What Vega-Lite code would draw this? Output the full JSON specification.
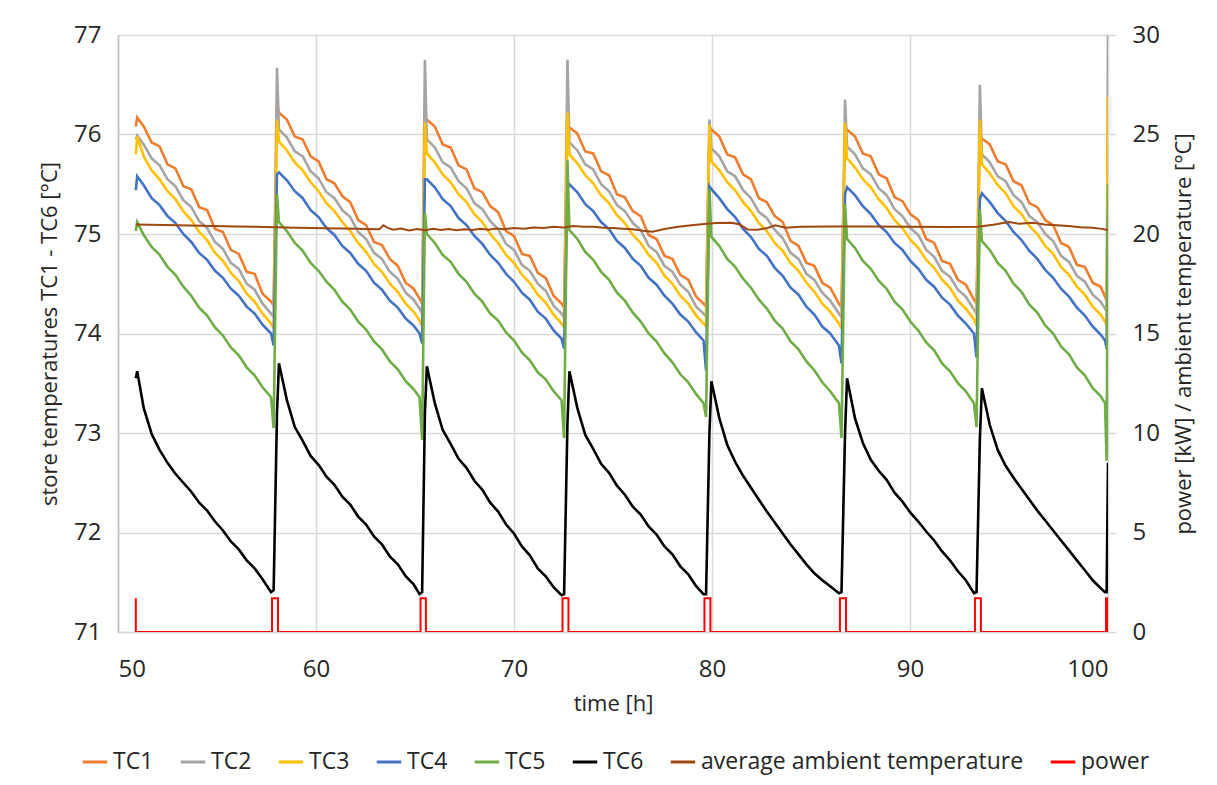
{
"$schema": "https://vega.github.io/schema/vega-lite/v6.json",
"width": 990, "height": 597,
"autosize": {"type": "none"},
"padding": {"left": 118, "top": 35, "right": 109, "bottom": 153},
"background": "white",
"config": {
 "font": "Open Sans",
 "view": {"stroke": null},
 "axis": {"labelFont": "Open Sans", "titleFont": "Open Sans", "labelColor": "#262626", "titleColor": "#262626", "titleFontWeight": "normal", "gridColor": "#d9d9d9", "gridWidth": 1.5, "ticks": false, "domain": false, "labelFontSize": 24, "titleFontSize": 22}
},
"datasets": {
 "tc": [
{"t":50.9,"TC1":76.08,"TC2":75.95,"TC3":75.8,"TC4":75.44,"TC5":75.03,"TC6":73.55},
{"t":50.97,"TC1":76.17,"TC2":75.99,"TC3":75.98,"TC4":75.58,"TC5":75.12,"TC6":73.62},
{"t":51.3,"TC1":76.08,"TC2":75.9,"TC3":75.78,"TC4":75.49,"TC5":74.99,"TC6":73.25},
{"t":51.7,"TC1":75.92,"TC2":75.76,"TC3":75.64,"TC4":75.36,"TC5":74.87,"TC6":72.99},
{"t":52.1,"TC1":75.88,"TC2":75.69,"TC3":75.55,"TC4":75.29,"TC5":74.79,"TC6":72.83},
{"t":52.5,"TC1":75.7,"TC2":75.55,"TC3":75.43,"TC4":75.18,"TC5":74.67,"TC6":72.7},
{"t":52.9,"TC1":75.66,"TC2":75.48,"TC3":75.35,"TC4":75.11,"TC5":74.59,"TC6":72.59},
{"t":53.3,"TC1":75.48,"TC2":75.34,"TC3":75.23,"TC4":75.0,"TC5":74.47,"TC6":72.5},
{"t":53.7,"TC1":75.45,"TC2":75.27,"TC3":75.14,"TC4":74.92,"TC5":74.38,"TC6":72.41},
{"t":54.1,"TC1":75.27,"TC2":75.13,"TC3":75.02,"TC4":74.81,"TC5":74.26,"TC6":72.3},
{"t":54.5,"TC1":75.24,"TC2":75.06,"TC3":74.94,"TC4":74.74,"TC5":74.18,"TC6":72.22},
{"t":54.9,"TC1":75.05,"TC2":74.92,"TC3":74.81,"TC4":74.63,"TC5":74.06,"TC6":72.11},
{"t":55.3,"TC1":75.02,"TC2":74.85,"TC3":74.73,"TC4":74.56,"TC5":73.98,"TC6":72.02},
{"t":55.7,"TC1":74.84,"TC2":74.71,"TC3":74.61,"TC4":74.45,"TC5":73.86,"TC6":71.91},
{"t":56.1,"TC1":74.8,"TC2":74.65,"TC3":74.53,"TC4":74.38,"TC5":73.78,"TC6":71.83},
{"t":56.5,"TC1":74.62,"TC2":74.5,"TC3":74.4,"TC4":74.27,"TC5":73.66,"TC6":71.72},
{"t":56.9,"TC1":74.6,"TC2":74.44,"TC3":74.32,"TC4":74.2,"TC5":73.58,"TC6":71.64},
{"t":57.3,"TC1":74.4,"TC2":74.3,"TC3":74.2,"TC4":74.09,"TC5":73.46,"TC6":71.53},
{"t":57.73,"TC1":74.32,"TC2":74.2,"TC3":74.1,"TC4":74.0,"TC5":73.36,"TC6":71.4},
{"t":57.86,"TC1":74.28,"TC2":74.17,"TC3":74.05,"TC4":73.88,"TC5":73.05,"TC6":71.42},
{"t":58.03,"TC1":76.3,"TC2":76.67,"TC3":76.15,"TC4":75.6,"TC5":75.4,"TC6":73.2},
{"t":58.13,"TC1":76.22,"TC2":76.05,"TC3":75.93,"TC4":75.62,"TC5":75.12,"TC6":73.7},
{"t":58.53,"TC1":76.15,"TC2":75.97,"TC3":75.84,"TC4":75.54,"TC5":75.03,"TC6":73.33},
{"t":58.93,"TC1":75.98,"TC2":75.83,"TC3":75.72,"TC4":75.43,"TC5":74.91,"TC6":73.06},
{"t":59.33,"TC1":75.95,"TC2":75.78,"TC3":75.64,"TC4":75.36,"TC5":74.83,"TC6":72.92},
{"t":59.73,"TC1":75.78,"TC2":75.63,"TC3":75.52,"TC4":75.24,"TC5":74.71,"TC6":72.77},
{"t":60.13,"TC1":75.73,"TC2":75.56,"TC3":75.43,"TC4":75.17,"TC5":74.63,"TC6":72.68},
{"t":60.53,"TC1":75.55,"TC2":75.42,"TC3":75.31,"TC4":75.06,"TC5":74.52,"TC6":72.56},
{"t":60.93,"TC1":75.51,"TC2":75.36,"TC3":75.23,"TC4":74.99,"TC5":74.44,"TC6":72.48},
{"t":61.33,"TC1":75.38,"TC2":75.24,"TC3":75.12,"TC4":74.88,"TC5":74.32,"TC6":72.36},
{"t":61.73,"TC1":75.32,"TC2":75.17,"TC3":75.03,"TC4":74.81,"TC5":74.24,"TC6":72.28},
{"t":62.13,"TC1":75.14,"TC2":75.02,"TC3":74.91,"TC4":74.7,"TC5":74.12,"TC6":72.16},
{"t":62.53,"TC1":75.09,"TC2":74.95,"TC3":74.82,"TC4":74.63,"TC5":74.04,"TC6":72.08},
{"t":62.93,"TC1":74.92,"TC2":74.81,"TC3":74.7,"TC4":74.51,"TC5":73.92,"TC6":71.96},
{"t":63.33,"TC1":74.89,"TC2":74.75,"TC3":74.62,"TC4":74.44,"TC5":73.84,"TC6":71.88},
{"t":63.73,"TC1":74.75,"TC2":74.62,"TC3":74.5,"TC4":74.33,"TC5":73.72,"TC6":71.76},
{"t":64.13,"TC1":74.68,"TC2":74.55,"TC3":74.42,"TC4":74.26,"TC5":73.64,"TC6":71.68},
{"t":64.53,"TC1":74.51,"TC2":74.41,"TC3":74.3,"TC4":74.15,"TC5":73.52,"TC6":71.56},
{"t":64.93,"TC1":74.45,"TC2":74.34,"TC3":74.22,"TC4":74.08,"TC5":73.44,"TC6":71.48},
{"t":65.23,"TC1":74.35,"TC2":74.25,"TC3":74.13,"TC4":74.0,"TC5":73.36,"TC6":71.38},
{"t":65.36,"TC1":74.3,"TC2":74.2,"TC3":74.07,"TC4":73.9,"TC5":72.93,"TC6":71.4},
{"t":65.5,"TC1":76.15,"TC2":76.75,"TC3":76.12,"TC4":75.55,"TC5":75.21,"TC6":73.2},
{"t":65.6,"TC1":76.15,"TC2":75.95,"TC3":75.81,"TC4":75.55,"TC5":75.0,"TC6":73.67},
{"t":66.0,"TC1":76.08,"TC2":75.87,"TC3":75.72,"TC4":75.47,"TC5":74.91,"TC6":73.3},
{"t":66.4,"TC1":75.9,"TC2":75.72,"TC3":75.6,"TC4":75.35,"TC5":74.79,"TC6":73.03},
{"t":66.8,"TC1":75.87,"TC2":75.67,"TC3":75.52,"TC4":75.28,"TC5":74.72,"TC6":72.89},
{"t":67.2,"TC1":75.69,"TC2":75.53,"TC3":75.4,"TC4":75.16,"TC5":74.6,"TC6":72.74},
{"t":67.6,"TC1":75.65,"TC2":75.46,"TC3":75.32,"TC4":75.09,"TC5":74.52,"TC6":72.65},
{"t":68.0,"TC1":75.46,"TC2":75.31,"TC3":75.2,"TC4":74.98,"TC5":74.4,"TC6":72.52},
{"t":68.4,"TC1":75.42,"TC2":75.25,"TC3":75.12,"TC4":74.9,"TC5":74.32,"TC6":72.43},
{"t":68.8,"TC1":75.28,"TC2":75.13,"TC3":75.0,"TC4":74.79,"TC5":74.2,"TC6":72.3},
{"t":69.2,"TC1":75.22,"TC2":75.05,"TC3":74.91,"TC4":74.71,"TC5":74.13,"TC6":72.21},
{"t":69.6,"TC1":75.03,"TC2":74.9,"TC3":74.79,"TC4":74.6,"TC5":74.01,"TC6":72.08},
{"t":70.0,"TC1":74.98,"TC2":74.84,"TC3":74.71,"TC4":74.52,"TC5":73.93,"TC6":71.99},
{"t":70.4,"TC1":74.8,"TC2":74.69,"TC3":74.59,"TC4":74.41,"TC5":73.81,"TC6":71.86},
{"t":70.8,"TC1":74.78,"TC2":74.63,"TC3":74.51,"TC4":74.34,"TC5":73.73,"TC6":71.77},
{"t":71.2,"TC1":74.61,"TC2":74.5,"TC3":74.39,"TC4":74.22,"TC5":73.61,"TC6":71.64},
{"t":71.6,"TC1":74.56,"TC2":74.43,"TC3":74.31,"TC4":74.15,"TC5":73.54,"TC6":71.56},
{"t":72.0,"TC1":74.38,"TC2":74.28,"TC3":74.19,"TC4":74.03,"TC5":73.42,"TC6":71.45},
{"t":72.4,"TC1":74.3,"TC2":74.2,"TC3":74.1,"TC4":73.95,"TC5":73.33,"TC6":71.37},
{"t":72.53,"TC1":74.26,"TC2":74.16,"TC3":74.06,"TC4":73.85,"TC5":72.95,"TC6":71.38},
{"t":72.7,"TC1":76.05,"TC2":76.75,"TC3":76.22,"TC4":75.45,"TC5":75.74,"TC6":73.1},
{"t":72.8,"TC1":76.07,"TC2":75.92,"TC3":75.8,"TC4":75.5,"TC5":75.04,"TC6":73.62},
{"t":73.2,"TC1":76.01,"TC2":75.84,"TC3":75.71,"TC4":75.42,"TC5":74.95,"TC6":73.25},
{"t":73.6,"TC1":75.83,"TC2":75.7,"TC3":75.59,"TC4":75.3,"TC5":74.82,"TC6":72.98},
{"t":74.0,"TC1":75.81,"TC2":75.65,"TC3":75.51,"TC4":75.23,"TC5":74.74,"TC6":72.84},
{"t":74.4,"TC1":75.63,"TC2":75.5,"TC3":75.39,"TC4":75.12,"TC5":74.62,"TC6":72.69},
{"t":74.8,"TC1":75.59,"TC2":75.43,"TC3":75.31,"TC4":75.05,"TC5":74.54,"TC6":72.6},
{"t":75.2,"TC1":75.4,"TC2":75.29,"TC3":75.19,"TC4":74.93,"TC5":74.41,"TC6":72.47},
{"t":75.6,"TC1":75.37,"TC2":75.23,"TC3":75.11,"TC4":74.86,"TC5":74.33,"TC6":72.38},
{"t":76.0,"TC1":75.23,"TC2":75.11,"TC3":74.99,"TC4":74.75,"TC5":74.21,"TC6":72.26},
{"t":76.4,"TC1":75.18,"TC2":75.04,"TC3":74.91,"TC4":74.68,"TC5":74.12,"TC6":72.18},
{"t":76.8,"TC1":74.99,"TC2":74.88,"TC3":74.79,"TC4":74.56,"TC5":74.0,"TC6":72.06},
{"t":77.2,"TC1":74.95,"TC2":74.82,"TC3":74.71,"TC4":74.49,"TC5":73.92,"TC6":71.98},
{"t":77.6,"TC1":74.78,"TC2":74.68,"TC3":74.58,"TC4":74.38,"TC5":73.8,"TC6":71.86},
{"t":78.0,"TC1":74.75,"TC2":74.62,"TC3":74.5,"TC4":74.3,"TC5":73.71,"TC6":71.78},
{"t":78.4,"TC1":74.59,"TC2":74.49,"TC3":74.38,"TC4":74.19,"TC5":73.59,"TC6":71.66},
{"t":78.8,"TC1":74.54,"TC2":74.42,"TC3":74.3,"TC4":74.12,"TC5":73.51,"TC6":71.58},
{"t":79.2,"TC1":74.37,"TC2":74.27,"TC3":74.18,"TC4":74.01,"TC5":73.39,"TC6":71.46},
{"t":79.57,"TC1":74.3,"TC2":74.2,"TC3":74.1,"TC4":73.93,"TC5":73.3,"TC6":71.38},
{"t":79.7,"TC1":74.27,"TC2":74.17,"TC3":74.07,"TC4":73.63,"TC5":73.16,"TC6":71.38},
{"t":79.87,"TC1":76.07,"TC2":76.15,"TC3":76.1,"TC4":75.48,"TC5":75.45,"TC6":73.0},
{"t":79.97,"TC1":76.05,"TC2":75.86,"TC3":75.73,"TC4":75.45,"TC5":74.97,"TC6":73.52},
{"t":80.37,"TC1":75.98,"TC2":75.78,"TC3":75.64,"TC4":75.36,"TC5":74.88,"TC6":73.15},
{"t":80.77,"TC1":75.8,"TC2":75.63,"TC3":75.52,"TC4":75.25,"TC5":74.75,"TC6":72.88},
{"t":81.17,"TC1":75.77,"TC2":75.58,"TC3":75.44,"TC4":75.17,"TC5":74.67,"TC6":72.71},
{"t":81.57,"TC1":75.6,"TC2":75.44,"TC3":75.32,"TC4":75.05,"TC5":74.55,"TC6":72.57},
{"t":81.97,"TC1":75.55,"TC2":75.36,"TC3":75.23,"TC4":74.97,"TC5":74.46,"TC6":72.45},
{"t":82.37,"TC1":75.36,"TC2":75.22,"TC3":75.11,"TC4":74.85,"TC5":74.34,"TC6":72.33},
{"t":82.77,"TC1":75.32,"TC2":75.16,"TC3":75.03,"TC4":74.78,"TC5":74.25,"TC6":72.21},
{"t":83.17,"TC1":75.18,"TC2":75.04,"TC3":74.91,"TC4":74.66,"TC5":74.13,"TC6":72.1},
{"t":83.57,"TC1":75.12,"TC2":74.96,"TC3":74.83,"TC4":74.58,"TC5":74.05,"TC6":71.99},
{"t":83.97,"TC1":74.93,"TC2":74.81,"TC3":74.71,"TC4":74.46,"TC5":73.92,"TC6":71.88},
{"t":84.37,"TC1":74.88,"TC2":74.75,"TC3":74.63,"TC4":74.39,"TC5":73.84,"TC6":71.78},
{"t":84.77,"TC1":74.71,"TC2":74.6,"TC3":74.51,"TC4":74.27,"TC5":73.72,"TC6":71.68},
{"t":85.17,"TC1":74.68,"TC2":74.54,"TC3":74.42,"TC4":74.19,"TC5":73.63,"TC6":71.59},
{"t":85.57,"TC1":74.51,"TC2":74.41,"TC3":74.3,"TC4":74.07,"TC5":73.51,"TC6":71.52},
{"t":85.97,"TC1":74.46,"TC2":74.33,"TC3":74.22,"TC4":74.0,"TC5":73.42,"TC6":71.46},
{"t":86.41,"TC1":74.3,"TC2":74.2,"TC3":74.1,"TC4":73.88,"TC5":73.3,"TC6":71.39},
{"t":86.54,"TC1":74.26,"TC2":74.16,"TC3":74.05,"TC4":73.7,"TC5":72.95,"TC6":71.4},
{"t":86.72,"TC1":76.05,"TC2":76.35,"TC3":76.12,"TC4":75.4,"TC5":75.3,"TC6":73.0},
{"t":86.82,"TC1":76.05,"TC2":75.88,"TC3":75.76,"TC4":75.47,"TC5":74.95,"TC6":73.55},
{"t":87.22,"TC1":75.98,"TC2":75.8,"TC3":75.67,"TC4":75.39,"TC5":74.86,"TC6":73.15},
{"t":87.62,"TC1":75.81,"TC2":75.66,"TC3":75.55,"TC4":75.28,"TC5":74.73,"TC6":72.9},
{"t":88.02,"TC1":75.78,"TC2":75.6,"TC3":75.47,"TC4":75.2,"TC5":74.65,"TC6":72.73},
{"t":88.42,"TC1":75.6,"TC2":75.46,"TC3":75.35,"TC4":75.09,"TC5":74.53,"TC6":72.62},
{"t":88.82,"TC1":75.56,"TC2":75.39,"TC3":75.26,"TC4":75.02,"TC5":74.45,"TC6":72.53},
{"t":89.22,"TC1":75.37,"TC2":75.25,"TC3":75.14,"TC4":74.91,"TC5":74.32,"TC6":72.4},
{"t":89.62,"TC1":75.33,"TC2":75.18,"TC3":75.06,"TC4":74.84,"TC5":74.24,"TC6":72.31},
{"t":90.02,"TC1":75.2,"TC2":75.06,"TC3":74.94,"TC4":74.73,"TC5":74.12,"TC6":72.2},
{"t":90.42,"TC1":75.14,"TC2":74.99,"TC3":74.86,"TC4":74.65,"TC5":74.03,"TC6":72.11},
{"t":90.82,"TC1":74.95,"TC2":74.84,"TC3":74.74,"TC4":74.54,"TC5":73.91,"TC6":72.01},
{"t":91.22,"TC1":74.91,"TC2":74.77,"TC3":74.66,"TC4":74.47,"TC5":73.83,"TC6":71.92},
{"t":91.62,"TC1":74.73,"TC2":74.63,"TC3":74.54,"TC4":74.36,"TC5":73.7,"TC6":71.81},
{"t":92.02,"TC1":74.7,"TC2":74.57,"TC3":74.46,"TC4":74.29,"TC5":73.62,"TC6":71.72},
{"t":92.42,"TC1":74.54,"TC2":74.44,"TC3":74.33,"TC4":74.18,"TC5":73.5,"TC6":71.61},
{"t":92.82,"TC1":74.49,"TC2":74.37,"TC3":74.25,"TC4":74.1,"TC5":73.42,"TC6":71.52},
{"t":93.23,"TC1":74.34,"TC2":74.24,"TC3":74.14,"TC4":74.0,"TC5":73.3,"TC6":71.39},
{"t":93.36,"TC1":74.3,"TC2":74.2,"TC3":74.08,"TC4":73.76,"TC5":73.06,"TC6":71.4},
{"t":93.53,"TC1":75.96,"TC2":76.5,"TC3":76.15,"TC4":75.35,"TC5":75.25,"TC6":72.95},
{"t":93.63,"TC1":75.96,"TC2":75.8,"TC3":75.7,"TC4":75.41,"TC5":74.93,"TC6":73.45},
{"t":94.03,"TC1":75.9,"TC2":75.72,"TC3":75.61,"TC4":75.32,"TC5":74.84,"TC6":73.08},
{"t":94.43,"TC1":75.73,"TC2":75.58,"TC3":75.49,"TC4":75.21,"TC5":74.71,"TC6":72.83},
{"t":94.83,"TC1":75.7,"TC2":75.53,"TC3":75.41,"TC4":75.13,"TC5":74.63,"TC6":72.67},
{"t":95.23,"TC1":75.53,"TC2":75.39,"TC3":75.28,"TC4":75.02,"TC5":74.5,"TC6":72.55},
{"t":95.63,"TC1":75.49,"TC2":75.32,"TC3":75.2,"TC4":74.94,"TC5":74.42,"TC6":72.44},
{"t":96.03,"TC1":75.31,"TC2":75.18,"TC3":75.08,"TC4":74.83,"TC5":74.29,"TC6":72.33},
{"t":96.43,"TC1":75.27,"TC2":75.12,"TC3":75.0,"TC4":74.75,"TC5":74.21,"TC6":72.22},
{"t":96.83,"TC1":75.14,"TC2":75.0,"TC3":74.88,"TC4":74.64,"TC5":74.08,"TC6":72.12},
{"t":97.23,"TC1":75.09,"TC2":74.93,"TC3":74.8,"TC4":74.56,"TC5":74.0,"TC6":72.02},
{"t":97.63,"TC1":74.91,"TC2":74.78,"TC3":74.67,"TC4":74.45,"TC5":73.87,"TC6":71.92},
{"t":98.03,"TC1":74.87,"TC2":74.72,"TC3":74.59,"TC4":74.37,"TC5":73.79,"TC6":71.82},
{"t":98.43,"TC1":74.69,"TC2":74.58,"TC3":74.47,"TC4":74.26,"TC5":73.66,"TC6":71.72},
{"t":98.83,"TC1":74.67,"TC2":74.52,"TC3":74.39,"TC4":74.18,"TC5":73.58,"TC6":71.62},
{"t":99.23,"TC1":74.51,"TC2":74.39,"TC3":74.27,"TC4":74.07,"TC5":73.45,"TC6":71.52},
{"t":99.63,"TC1":74.47,"TC2":74.32,"TC3":74.19,"TC4":73.99,"TC5":73.37,"TC6":71.44},
{"t":99.85,"TC1":74.37,"TC2":74.25,"TC3":74.12,"TC4":73.93,"TC5":73.3,"TC6":71.4},
{"t":99.93,"TC1":74.33,"TC2":74.22,"TC3":74.08,"TC4":73.85,"TC5":72.72,"TC6":71.4},
{"t":100.0,"TC1":75.3,"TC2":77.0,"TC3":76.38,"TC4":75.2,"TC5":75.5,"TC6":72.7}
 ],
 "aux": [
{"series":"average ambient temperature","i":0,"t":50.9,"v":20.48},
{"series":"average ambient temperature","i":1,"t":53,"v":20.44},
{"series":"average ambient temperature","i":2,"t":56,"v":20.38},
{"series":"average ambient temperature","i":3,"t":59,"v":20.32},
{"series":"average ambient temperature","i":4,"t":62,"v":20.27},
{"series":"average ambient temperature","i":5,"t":63.2,"v":20.24},
{"series":"average ambient temperature","i":6,"t":63.4,"v":20.44},
{"series":"average ambient temperature","i":7,"t":63.6,"v":20.32},
{"series":"average ambient temperature","i":8,"t":63.9,"v":20.22},
{"series":"average ambient temperature","i":9,"t":64.3,"v":20.27},
{"series":"average ambient temperature","i":10,"t":64.7,"v":20.18},
{"series":"average ambient temperature","i":11,"t":65.1,"v":20.25},
{"series":"average ambient temperature","i":12,"t":65.5,"v":20.19},
{"series":"average ambient temperature","i":13,"t":65.9,"v":20.26},
{"series":"average ambient temperature","i":14,"t":66.3,"v":20.2},
{"series":"average ambient temperature","i":15,"t":66.7,"v":20.25},
{"series":"average ambient temperature","i":16,"t":67.1,"v":20.19},
{"series":"average ambient temperature","i":17,"t":67.5,"v":20.24},
{"series":"average ambient temperature","i":18,"t":67.9,"v":20.2},
{"series":"average ambient temperature","i":19,"t":68.3,"v":20.26},
{"series":"average ambient temperature","i":20,"t":68.7,"v":20.22},
{"series":"average ambient temperature","i":21,"t":69.1,"v":20.27},
{"series":"average ambient temperature","i":22,"t":69.5,"v":20.24},
{"series":"average ambient temperature","i":23,"t":70,"v":20.3},
{"series":"average ambient temperature","i":24,"t":70.5,"v":20.27},
{"series":"average ambient temperature","i":25,"t":71,"v":20.33},
{"series":"average ambient temperature","i":26,"t":71.5,"v":20.3},
{"series":"average ambient temperature","i":27,"t":72,"v":20.37},
{"series":"average ambient temperature","i":28,"t":72.5,"v":20.33},
{"series":"average ambient temperature","i":29,"t":73,"v":20.4},
{"series":"average ambient temperature","i":30,"t":73.5,"v":20.36},
{"series":"average ambient temperature","i":31,"t":74,"v":20.36},
{"series":"average ambient temperature","i":32,"t":74.5,"v":20.31},
{"series":"average ambient temperature","i":33,"t":75,"v":20.3},
{"series":"average ambient temperature","i":34,"t":75.5,"v":20.27},
{"series":"average ambient temperature","i":35,"t":76,"v":20.24},
{"series":"average ambient temperature","i":36,"t":76.5,"v":20.16},
{"series":"average ambient temperature","i":37,"t":77,"v":20.11},
{"series":"average ambient temperature","i":38,"t":77.6,"v":20.25},
{"series":"average ambient temperature","i":39,"t":78.3,"v":20.36},
{"series":"average ambient temperature","i":40,"t":79.2,"v":20.47},
{"series":"average ambient temperature","i":41,"t":80.2,"v":20.55},
{"series":"average ambient temperature","i":42,"t":81,"v":20.57},
{"series":"average ambient temperature","i":43,"t":81.4,"v":20.48},
{"series":"average ambient temperature","i":44,"t":81.8,"v":20.23},
{"series":"average ambient temperature","i":45,"t":82.3,"v":20.21},
{"series":"average ambient temperature","i":46,"t":82.8,"v":20.3},
{"series":"average ambient temperature","i":47,"t":83.2,"v":20.44},
{"series":"average ambient temperature","i":48,"t":83.7,"v":20.32},
{"series":"average ambient temperature","i":49,"t":84.5,"v":20.37},
{"series":"average ambient temperature","i":50,"t":86,"v":20.38},
{"series":"average ambient temperature","i":51,"t":88,"v":20.38},
{"series":"average ambient temperature","i":52,"t":90,"v":20.37},
{"series":"average ambient temperature","i":53,"t":92,"v":20.35},
{"series":"average ambient temperature","i":54,"t":93.4,"v":20.36},
{"series":"average ambient temperature","i":55,"t":94.2,"v":20.46},
{"series":"average ambient temperature","i":56,"t":95,"v":20.6},
{"series":"average ambient temperature","i":57,"t":95.5,"v":20.52},
{"series":"average ambient temperature","i":58,"t":96.2,"v":20.56},
{"series":"average ambient temperature","i":59,"t":96.8,"v":20.48},
{"series":"average ambient temperature","i":60,"t":97.4,"v":20.44},
{"series":"average ambient temperature","i":61,"t":98,"v":20.4},
{"series":"average ambient temperature","i":62,"t":98.6,"v":20.34},
{"series":"average ambient temperature","i":63,"t":99.2,"v":20.31},
{"series":"average ambient temperature","i":64,"t":99.6,"v":20.27},
{"series":"average ambient temperature","i":65,"t":100,"v":20.2},
{"series":"power","i":0,"t":50.9,"v":1.7},
{"series":"power","i":1,"t":50.9,"v":0},
{"series":"power","i":2,"t":57.78,"v":0},
{"series":"power","i":3,"t":57.78,"v":1.7},
{"series":"power","i":4,"t":58.08,"v":1.7},
{"series":"power","i":5,"t":58.08,"v":0},
{"series":"power","i":6,"t":65.28,"v":0},
{"series":"power","i":7,"t":65.28,"v":1.7},
{"series":"power","i":8,"t":65.55,"v":1.7},
{"series":"power","i":9,"t":65.55,"v":0},
{"series":"power","i":10,"t":72.45,"v":0},
{"series":"power","i":11,"t":72.45,"v":1.7},
{"series":"power","i":12,"t":72.75,"v":1.7},
{"series":"power","i":13,"t":72.75,"v":0},
{"series":"power","i":14,"t":79.62,"v":0},
{"series":"power","i":15,"t":79.62,"v":1.7},
{"series":"power","i":16,"t":79.92,"v":1.7},
{"series":"power","i":17,"t":79.92,"v":0},
{"series":"power","i":18,"t":86.46,"v":0},
{"series":"power","i":19,"t":86.46,"v":1.7},
{"series":"power","i":20,"t":86.77,"v":1.7},
{"series":"power","i":21,"t":86.77,"v":0},
{"series":"power","i":22,"t":93.28,"v":0},
{"series":"power","i":23,"t":93.28,"v":1.7},
{"series":"power","i":24,"t":93.58,"v":1.7},
{"series":"power","i":25,"t":93.58,"v":0},
{"series":"power","i":26,"t":99.9,"v":0},
{"series":"power","i":27,"t":99.9,"v":1.7},
{"series":"power","i":28,"t":99.98,"v":1.7},
{"series":"power","i":29,"t":99.98,"v":0}
 ]
},
"layer": [
 {
  "data": {"name": "tc"},
  "transform": [{"fold": ["TC1","TC2","TC3","TC4","TC5","TC6"], "as": ["series","value"]}],
  "mark": {"type": "line", "strokeWidth": 2.6, "clip": true},
  "encoding": {
   "x": {"field": "t", "type": "quantitative", "scale": {"domain": [50,100], "nice": false, "zero": false},
     "axis": {"values": [50,60,70,80,90,100], "title": "time [h]", "grid": true, "labelPadding": 25, "titlePadding": 12, "domain": true, "domainColor": "#d9d9d9", "domainWidth": 1.5}},
   "y": {"field": "value", "type": "quantitative", "scale": {"domain": [71,77], "nice": false, "zero": false},
     "axis": {"orient": "left", "values": [71,72,73,74,75,76,77], "title": "store temperatures TC1 - TC6 [°C]", "labelPadding": 17, "titlePadding": 12, "domain": true, "domainColor": "#bfbfbf", "domainWidth": 1.5}},
   "color": {"field": "series", "type": "nominal",
     "scale": {"domain": ["TC1","TC2","TC3","TC4","TC5","TC6","average ambient temperature","power"],
               "range": ["#ED7D31","#A5A5A5","#FFC000","#4472C4","#70AD47","#000000","#9E480E","#FF0000"]},
     "legend": {"orient": "none", "legendX": -37, "legendY": 713, "direction": "horizontal", "columns": 8, "title": null,
       "symbolType": "stroke", "symbolSize": 600, "symbolStrokeWidth": 3, "labelFontSize": 23, "labelFont": "Open Sans",
       "labelColor": "#262626", "columnPadding": 20, "labelLimit": 500, "labelOffset": 4}}
  }
 },
 {
  "data": {"name": "aux"},
  "mark": {"type": "line", "strokeWidth": 2, "clip": true},
  "encoding": {
   "x": {"field": "t", "type": "quantitative"},
   "y": {"field": "v", "type": "quantitative", "scale": {"domain": [0,30], "nice": false, "zero": false},
     "axis": {"orient": "right", "values": [0,5,10,15,20,25,30], "title": "power [kW] / ambient temperature [°C]", "titleAngle": -90, "grid": false, "ticks": true, "tickSize": 8, "tickColor": "#d9d9d9", "tickWidth": 1.5, "labelPadding": 16, "titlePadding": 36}},
   "color": {"field": "series", "type": "nominal"},
   "order": {"field": "i", "type": "quantitative"}
  }
 }
],
"resolve": {"scale": {"y": "independent"}}
}
